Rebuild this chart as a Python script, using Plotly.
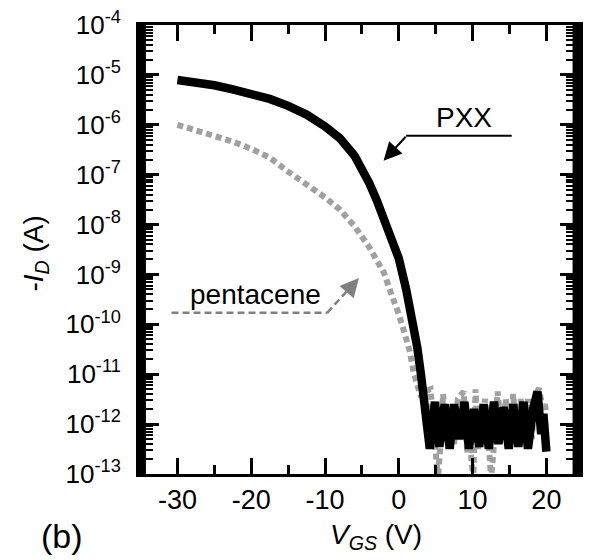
import plotly.graph_objects as go

# ---- data ----
pxx_vgs = [-30, -27.5, -25, -22.5, -20, -17.5, -15, -12.5, -10, -8, -6, -5, -4, -3, -2, -1, 0, 1, 2, 2.5, 3, 3.5, 3.8,
           4.2, 4.9, 5.5, 6.2, 6.9, 7.5, 8.2, 8.9, 9.5, 10.2, 10.9, 11.5, 12.2, 12.9, 13.5, 14.2, 14.9,
           15.5, 16.2, 16.9, 17.5, 18.2, 18.8, 19.3, 19.6, 20.0]
pxx_id = [7.9e-6, 7.1e-6, 6.2e-6, 5.1e-6, 4.3e-6, 3.3e-6, 2.4e-6, 1.6e-6, 9.3e-7, 5.4e-7, 2.4e-7, 1.35e-7, 6.8e-8,
          3.1e-8, 1.35e-8, 5.5e-9, 2.1e-9, 5.0e-10, 1.0e-10, 3.5e-11, 1.0e-11, 2.8e-12, 1.26e-12,
          3.2e-13, 2.8e-12, 3.5e-13, 2.5e-12, 3.2e-13, 2.5e-12, 5.0e-13, 2.8e-12, 3.2e-13, 2.0e-12,
          3.5e-13, 2.5e-12, 3.2e-13, 2.8e-12, 4.0e-13, 2.2e-12, 3.2e-13, 2.5e-12, 3.5e-13, 2.8e-12,
          3.2e-13, 2.0e-12, 4.5e-12, 6.3e-13, 1.6e-12, 2.8e-13]

pen_vgs = [-30, -27.5, -25, -22.5, -20, -17.5, -15, -12.5, -10, -8, -6, -4, -3, -2, -1, 0, 1, 1.5, 2, 2.5, 3.0,
           3.5, 4.3, 4.8, 5.3, 5.7, 6.0, 6.5, 7.0, 7.5, 8.0, 8.8, 9.3, 9.7, 10.1, 10.4, 10.7, 11.2, 11.7, 12.2,
           12.5, 12.8, 13.4, 14.0, 14.5, 15.0, 15.5, 16.0, 16.5, 17.0, 17.5, 18.0, 18.5, 19.0, 19.5, 19.8, 20.0]
pen_id = [1.0e-6, 7.9e-7, 6.2e-7, 4.6e-7, 3.3e-7, 2.2e-7, 1.15e-7, 6.6e-8, 3.5e-8, 2.0e-8, 9.3e-9, 3.5e-9, 2.0e-9,
          1.07e-9, 4.0e-10, 1.6e-10, 5.2e-11, 2.8e-11, 1.1e-11, 5.6e-12, 3.5e-12,
          4.5e-12, 5.0e-12, 6.3e-13, 8e-14, 5.0e-13, 4.0e-12, 5.0e-13, 2.5e-12, 4.0e-13, 3.2e-12, 4.5e-12,
          2.5e-13, 3.2e-13, 8e-14, 5.0e-12, 3.2e-13, 6.3e-13, 3.2e-12, 4.0e-13, 8e-14, 2.5e-13, 4.5e-12,
          5.0e-13, 3.2e-12, 5.0e-13, 4.0e-12, 5.0e-13, 3.2e-12, 4.0e-13, 3.2e-12, 5.0e-13, 4.0e-12, 5.2e-12,
          2.0e-12, 2.5e-12, 1.6e-12]

x_ticks = [-30, -20, -10, 0, 10, 20]
y_exps = [-13, -12, -11, -10, -9, -8, -7, -6, -5, -4]

FONT = "Liberation Sans, Arial, sans-serif"
Y_LO, Y_HI = -13, -4
PLOT_W = 441.0  # plot-area width in px (589 - 142 - 6)


def py(logval):
    """paper y of a log10 value (for decorations)."""
    return (logval - Y_LO) / (Y_HI - Y_LO)


fig = go.Figure()
fig.add_trace(go.Scatter(x=pen_vgs, y=pen_id, mode="lines",
                         line=dict(color="#a0a0a0", width=6, dash="6px,4px"),
                         hoverinfo="skip"))
fig.add_trace(go.Scatter(x=pxx_vgs, y=pxx_id, mode="lines",
                         line=dict(color="black", width=8.5),
                         hoverinfo="skip"))

# PXX label and arrow
fig.add_annotation(x=8.9, y=-5.86, xref="x", yref="y", text="PXX", showarrow=False,
                   xanchor="center", yanchor="middle",
                   font=dict(family=FONT, size=28, color="black"))
fig.add_shape(type="line", xref="x", yref="paper", x0=15.3, y0=py(-6.22), x1=1.0, y1=py(-6.22),
              line=dict(color="black", width=2))
fig.add_annotation(x=-2.06, y=-6.72, xref="x", yref="y", ax=23.5, ay=-25.5, text="",
                   showarrow=True, arrowhead=2, arrowsize=1.8, arrowwidth=2, arrowcolor="black")

# pentacene label and arrow
fig.add_annotation(x=-19.4, y=-9.40, xref="x", yref="y", text="pentacene", showarrow=False,
                   xanchor="center", yanchor="middle",
                   font=dict(family=FONT, size=28, color="black"))
fig.add_shape(type="line", xref="x", yref="paper", x0=-30.8, y0=py(-9.77), x1=-9.7, y1=py(-9.77),
              line=dict(color="#808080", width=2.5, dash="7px,4px"))
fig.add_shape(type="line", xref="x", yref="paper", x0=-9.7, y0=py(-9.77), x1=-6.2, y1=py(-9.2),
              line=dict(color="#808080", width=2.5, dash="7px,4px"))
fig.add_annotation(x=-5.4, y=-9.07, xref="x", yref="y", ax=-7, ay=8, text="",
                   showarrow=True, arrowhead=2, arrowsize=1.5, arrowwidth=2.5, arrowcolor="#808080")

# thick left / right frame bars
fig.add_shape(type="rect", xref="paper", yref="paper", x0=-3.0 / PLOT_W, x1=4.0 / PLOT_W, y0=-0.003, y1=1.003,
              fillcolor="black", line=dict(width=0), layer="above")
fig.add_shape(type="rect", xref="paper", yref="paper", x0=1 - 4.5 / PLOT_W, x1=1 + 5.0 / PLOT_W, y0=-0.003, y1=1.003,
              fillcolor="black", line=dict(width=0), layer="above")

# panel label
fig.add_annotation(x=-0.237, y=-0.139, xref="paper", yref="paper", text="(b)", showarrow=False,
                   xanchor="left", yanchor="middle", font=dict(family=FONT, size=34, color="black"))

# axis titles as annotations
fig.add_annotation(x=0.539, y=-0.14, xref="paper", yref="paper",
                   text="<i>V<sub>GS</sub></i> (V)", showarrow=False,
                   xanchor="center", yanchor="middle",
                   font=dict(family=FONT, size=28, color="black"))
fig.add_annotation(x=-0.245, y=0.492, xref="paper", yref="paper", textangle=-90,
                   text="-<i>I<sub>D</sub></i> (A)", showarrow=False,
                   xanchor="center", yanchor="middle",
                   font=dict(family=FONT, size=28, color="black"))

minor_y = [k * 10.0 ** e for e in y_exps[:-1] for k in range(2, 10)]

fig.update_xaxes(range=[-34.8, 24.15], tickvals=x_ticks, ticktext=[str(v) for v in x_ticks],
                 ticks="inside", ticklen=16, tickwidth=3, tickcolor="black",
                 minor=dict(dtick=5, tick0=0, ticks="inside", ticklen=9, tickwidth=3, tickcolor="black"),
                 showline=True, linewidth=3, linecolor="black", mirror="allticks",
                 showgrid=False, zeroline=False,
                 tickfont=dict(family=FONT, size=27, color="black"))
fig.update_yaxes(type="log", range=[Y_LO, Y_HI],
                 tickvals=[10.0 ** e for e in y_exps],
                 ticktext=["10<sup>%d</sup>" % e for e in y_exps],
                 ticks="inside", ticklen=17, tickwidth=3, tickcolor="black",
                 minor=dict(tickmode="array", tickvals=minor_y, ticks="inside", ticklen=11,
                            tickwidth=2, tickcolor="black"),
                 showline=True, linewidth=6, linecolor="black", mirror="allticks",
                 showgrid=False, zeroline=False, ticklabelstandoff=10,
                 tickfont=dict(family=FONT, size=26, color="black"))

fig.update_layout(width=589, height=560, margin=dict(l=142, r=6, t=25, b=86),
                  paper_bgcolor="white", plot_bgcolor="white", showlegend=False)

fig.write_html("out.html")
